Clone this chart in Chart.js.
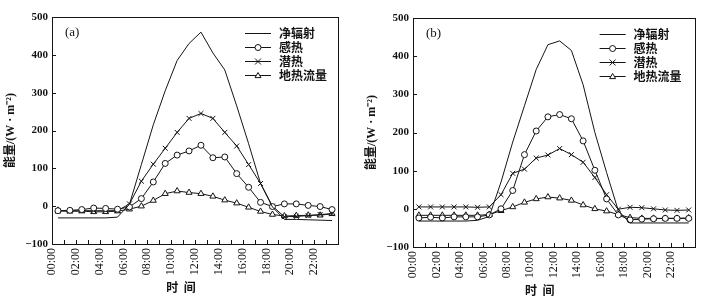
<!DOCTYPE html>
<html lang="zh">
<head>
<meta charset="UTF-8">
<title>能量平衡日变化</title>
<style>
  body { margin: 0; background: #fff; }
  .wrap { position: relative; width: 713px; height: 301px; }
  .panel { position: absolute; top: 0; }
  #boxA { left: 0; }
  #boxB { left: 357px; }
</style>
</head>
<body>
<div class="wrap">
  <div class="panel" id="boxA"><canvas id="chartA" width="357" height="301"></canvas></div>
  <div class="panel" id="boxB"><canvas id="chartB" width="356" height="301"></canvas></div>
</div>

<script src="https://cdn.jsdelivr.net/npm/chart.js"></script>
<script>
// half-hour midpoints, 00:30 ... 23:30
const hourMid = [0.5, 1.5, 2.5, 3.5, 4.5, 5.5, 6.5, 7.5, 8.5, 9.5, 10.5, 11.5,
                 12.5, 13.5, 14.5, 15.5, 16.5, 17.5, 18.5, 19.5, 20.5, 21.5, 22.5, 23.5];
const seriesNames = ['净辐射', '感热', '潜热', '地热流量'];
const yMin = -100, yMax = 500, yStep = 100;
const xMin = 0, xMax = 24, xStep = 2;

// panel (a)
const netA    = [-31, -31, -31, -31, -31, -29, 5, 110, 215, 305, 385, 430, 460, 405, 360, 265, 165, 60, -2, -35, -35, -36, -37, -38];
const senA    = [-12, -11, -9, -5, -6, -8, -2, 20, 64, 113, 135, 146, 161, 128, 130, 86, 50, 10, -1, 6, 6, 2, -1, -9];
const latA    = [-13, -13, -12, -12, -12, -12, 6, 66, 111, 153, 195, 232, 245, 232, 195, 159, 110, 60, 0, -28, -27, -25, -22, -20];
const groundA = [-11, -13, -13, -15, -15, -13, -8, 0, 15, 33, 40, 36, 33, 26, 16, 8, -3, -14, -22, -26, -25, -24, -24, -20];

// panel (b)
const netB    = [-32, -32, -32, -32, -32, -30, -20, 70, 175, 270, 365, 430, 440, 415, 325, 200, 95, -5, -37, -37, -37, -37, -37, -37];
const senB    = [-24, -22, -24, -21, -21, -21, -16, 0, 48, 142, 204, 241, 247, 236, 178, 101, 26, -16, -29, -27, -26, -25, -25, -25];
const latB    = [5, 5, 5, 5, 5, 4, 5, 37, 93, 104, 133, 141, 158, 142, 122, 82, 37, -1, 4, 3, 0, -3, -4, -3];
const groundB = [-17, -17, -17, -17, -17, -17, -15, -5, 5, 17, 26, 31, 28, 22, 10, 0, -6, -15, -23, -25, -25, -25, -25, -24];

const INK = '#141414';
const SERIF = '"Liberation Serif", "Noto Sans CJK SC", serif';
const CJK = '"Noto Sans CJK SC", "Liberation Serif", sans-serif';

function pts(vals) {
  return vals.map((v, i) => ({ x: hourMid[i], y: v }));
}

function marker(ctx, style, x, y, r) {
  ctx.beginPath();
  if (style === 'circle') {
    ctx.arc(x, y, r, 0, Math.PI * 2);
    ctx.fillStyle = '#fff'; ctx.fill(); ctx.stroke();
  } else if (style === 'crossRot') {
    ctx.moveTo(x - r, y - r); ctx.lineTo(x + r, y + r);
    ctx.moveTo(x + r, y - r); ctx.lineTo(x - r, y + r);
    ctx.stroke();
  } else if (style === 'triangle') {
    ctx.moveTo(x, y - r); ctx.lineTo(x + r, y + r * 0.7); ctx.lineTo(x - r, y + r * 0.7);
    ctx.closePath();
    ctx.fillStyle = '#fff'; ctx.fill(); ctx.stroke();
  }
}

// frame, inward ticks, tag, legend and x title
const decor = {
  id: 'decor',
  afterDatasetsDraw(chart, args, opts) {
    const { ctx, chartArea: a, scales } = chart;
    ctx.save();
    ctx.strokeStyle = INK;
    ctx.lineWidth = 1;
    ctx.strokeRect(Math.round(a.left) + 0.5, Math.round(a.top) + 0.5,
                   Math.round(a.right - a.left), Math.round(a.bottom - a.top));
    // inward ticks
    ctx.beginPath();
    for (let h = xMin + 1; h < xMax; h++) {
      const px = Math.round(scales.x.getPixelForValue(h)) + 0.5;
      ctx.moveTo(px, a.bottom); ctx.lineTo(px, a.bottom - 4);
    }
    for (let v = yMin + yStep; v < yMax; v += yStep) {
      const py = Math.round(scales.y.getPixelForValue(v)) + 0.5;
      ctx.moveTo(a.left, py); ctx.lineTo(a.left + 4, py);
    }
    ctx.stroke();

    // panel tag
    ctx.fillStyle = INK;
    ctx.font = '13px ' + SERIF;
    ctx.textBaseline = 'middle';
    ctx.textAlign = 'left';
    ctx.fillText(opts.tag, a.left + 13, a.top + 16);

    // legend
    chart.data.datasets.forEach((ds, i) => {
      const y = Math.round(a.top + 16 + i * 14) + 0.5;
      const x0 = a.right - opts.legendRight;
      ctx.beginPath();
      ctx.moveTo(x0, y); ctx.lineTo(x0 + 26, y); ctx.stroke();
      if (ds.pointRadius > 0) marker(ctx, ds.pointStyle, x0 + 13, y, 3);
      ctx.fillStyle = INK;
      ctx.font = 'bold 12px ' + CJK;
      ctx.fillText(ds.label, x0 + 34, y);
    });

    // x axis title
    ctx.textAlign = 'center';
    ctx.font = 'bold 12px ' + CJK;
    ctx.fillText('时  间', (a.left + a.right) / 2 - 14, opts.xTitleY);
    ctx.restore();
  }
};

function makePanel(id, tag, net, sen, lat, ground, lay) {
  const base = { borderColor: INK, borderWidth: 1, tension: 0,
                 pointBorderColor: INK, pointBackgroundColor: '#fff', pointBorderWidth: 1 };
  return new Chart(document.getElementById(id), {
    type: 'line',
    data: {
      datasets: [
        { ...base, label: seriesNames[0], data: pts(net), pointRadius: 0 },
        { ...base, label: seriesNames[1], data: pts(sen), pointStyle: 'circle', pointRadius: 3 },
        { ...base, label: seriesNames[2], data: pts(lat), pointStyle: 'crossRot', pointRadius: 3.5 },
        { ...base, label: seriesNames[3], data: pts(ground), pointStyle: 'triangle', pointRadius: 3.5 }
      ]
    },
    options: {
      responsive: false,
      animation: false,
      layout: { padding: { left: 0, top: lay.top, right: lay.right, bottom: 0 } },
      plugins: {
        legend: { display: false },
        tooltip: { enabled: false },
        decor: { tag: tag, legendRight: lay.legendRight, xTitleY: lay.xTitleY }
      },
      scales: {
        x: {
          type: 'linear', min: xMin, max: xMax,
          grid: { display: false, drawTicks: false },
          border: { display: false },
          afterFit(s) { s.height = lay.xHeight; },
          ticks: {
            stepSize: xStep, autoSkip: false, minRotation: 90, maxRotation: 90,
            padding: 4, color: INK,
            font: { family: SERIF, size: 12 },
            callback: v => v < xMax ? String(v).padStart(2, '0') + ':00' : ''
          }
        },
        y: {
          min: yMin, max: yMax,
          grid: { display: false, drawTicks: false },
          border: { display: false },
          afterFit(s) { s.width = lay.yWidth; },
          ticks: {
            stepSize: yStep, padding: 4, color: INK,
            font: { family: SERIF, size: 11, weight: 'bold' },
            callback: v => v < 0 ? '\u2212' + Math.abs(v) : String(v)
          },
          title: {
            display: true, text: '能量/(W · m⁻²)', color: INK,
            padding: { top: lay.titlePad, bottom: 0 },
            font: { family: SERIF, size: 12, weight: 'bold' }
          }
        }
      }
    },
    plugins: [decor]
  });
}

makePanel('chartA', '(a)', netA, senA, latA, groundA,
  { top: 17, right: 19, yWidth: 52, xHeight: 57, titlePad: 4, legendRight: 93, xTitleY: 287 });
makePanel('chartB', '(b)', netB, senB, latB, groundB,
  { top: 18, right: 13, yWidth: 56, xHeight: 54, titlePad: 8, legendRight: 95, xTitleY: 290 });
</script>
</body>
</html>
